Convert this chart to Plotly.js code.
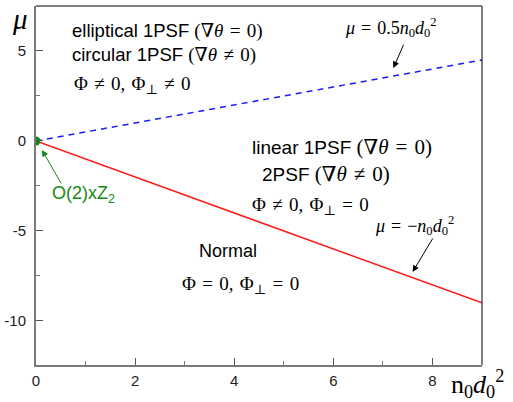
<!DOCTYPE html>
<html><head><meta charset="utf-8">
<script src="https://cdn.plot.ly/plotly-3.0.1.min.js"></script>
<style>html,body{margin:0;padding:0;background:#fff}</style>
</head><body><div id="chart" style="width:513px;height:402px"></div>
<script>
const xLine = [0, 9];
const muNormal = [0, -9];      // mu = -n0 d0^2
const muCircular = [0, 4.5];   // mu = 0.5 n0 d0^2
const originX = [0];
const originY = [0];
const xTickVals = [0, 2, 4, 6, 8];
const xTickText = ['0', '2', '4', '6', '8'];
const yTickVals = [-10, -5, 0, 5];
const yTickText = ['-10', '-5', '0', '5'];

const SANS = 'Liberation Sans, Arial, sans-serif';
const SERIF = 'Liberation Serif, DejaVu Serif, serif';
const S = '\u2004';
const m = (s, sz) => '<span style="font-family:' + SERIF + ';font-size:' + sz + 'px">' + s + '</span>';
const it = s => '<i>' + s + '</i>';

const traces = [
  {x: xLine, y: muCircular, mode: 'lines', line: {color: '#1a1aff', width: 1.5, dash: '6px,5px'}, hoverinfo: 'skip'},
  {x: xLine, y: muNormal, mode: 'lines', line: {color: '#ff1a1a', width: 1.5}, hoverinfo: 'skip'},
  {x: originX, y: originY, mode: 'markers', marker: {color: '#138a13', size: 9}, cliponaxis: true, hoverinfo: 'skip'}
];

const W = 513, H = 402, L = 36, R = 31, T = 6, B = 37;
const px = x => (x - L) / (W - L - R);
const py = y => 1 - (y - T) / (H - T - B);
const sansFont = {family: SANS, size: 19, color: '#000'};
const ann = (x, y, text, font) => ({xref: 'paper', yref: 'paper', x: px(x), y: py(y), text: text, showarrow: false,
  xanchor: 'left', yanchor: 'middle', font: font || sansFont});
const mathFont = {family: SERIF, size: 19, color: '#000'};

const annotations = [
  ann(70, 31, 'elliptical 1PSF ' + m('(∇' + it('θ') + S + '=' + S + '0)', 19), {family: SANS, size: 18.5, color: '#000'}),
  ann(70, 55, 'circular 1PSF ' + m('(∇' + it('θ') + S + '≠' + S + '0)', 19), {family: SANS, size: 18.5, color: '#000'}),
  ann(72, 85, 'Φ' + S + '≠' + S + '0,' + S + 'Φ<sub>⊥</sub>' + S + '≠' + S + '0', mathFont),
  ann(250, 147, 'linear 1PSF ' + m('(∇' + it('θ') + S + '=' + S + '0)', 21)),
  ann(260, 174, '2PSF ' + m('(∇' + it('θ') + S + '≠' + S + '0)', 21)),
  ann(250, 206, 'Φ' + S + '≠' + S + '0,' + S + 'Φ<sub>⊥</sub>' + S + '=' + S + '0', mathFont),
  ann(197, 251, 'Normal', {family: SANS, size: 18, color: '#000'}),
  ann(180, 285, 'Φ' + S + '=' + S + '0,' + S + 'Φ<sub>⊥</sub>' + S + '=' + S + '0', mathFont),
  ann(50, 194, 'O(2)xZ<sub>2</sub>', {family: SANS, size: 18, color: '#138a13'}),
  ann(343, 28, it('μ') + S + '=' + S + '0.5' + it('n') + '<sub>0</sub>' + it('d') + '<sub>0</sub><sup>2</sup>', {family: SERIF, size: 18, color: '#000'}),
  ann(373, 225, it('μ') + S + '=' + S + '−' + it('n') + '<sub>0</sub>' + it('d') + '<sub>0</sub><sup>2</sup>', {family: SERIF, size: 18, color: '#000'}),
  ann(10, 19, it('μ'), {family: SERIF, size: 29, color: '#000'}),
  ann(449, 384, 'n<sub>0</sub>' + it('d') + '<sub>0</sub><sup>2</sup>', {family: SERIF, size: 26, color: '#000'}),
  // arrows
  {xref: 'x', yref: 'y', x: 7.21, y: 4.05, ax: 11, ay: -25, text: '', showarrow: true, arrowhead: 2, arrowsize: 1.3, arrowwidth: 1, arrowcolor: '#000'},
  {xref: 'x', yref: 'y', x: 7.6, y: -7.28, ax: 21, ay: -35, text: '', showarrow: true, arrowhead: 2, arrowsize: 1.3, arrowwidth: 1, arrowcolor: '#000'},
  {xref: 'x', yref: 'y', x: 0.12, y: -0.5, axref: 'x', ayref: 'y', ax: 0.525, ay: -2.44, text: '', showarrow: true, arrowhead: 2, arrowsize: 1.3, arrowwidth: 1, arrowcolor: '#138a13'}
];

const layout = {
  width: W, height: H,
  margin: {l: L, r: R, t: T, b: B, pad: 0},
  paper_bgcolor: '#fff', plot_bgcolor: '#fff',
  showlegend: false,
  xaxis: {
    range: [0, 9], showgrid: false, zeroline: false,
    showline: true, linecolor: '#7a7a7a', linewidth: 2,
    ticks: 'inside', ticklen: 7, tickwidth: 1, tickcolor: '#555',
    tickmode: 'array', tickvals: xTickVals, ticktext: xTickText,
    minor: {dtick: 1, ticks: 'inside', ticklen: 4, tickcolor: '#777', showgrid: false},
    tickfont: {family: SANS, size: 15, color: '#222'}, ticklabelstandoff: 1, fixedrange: true
  },
  yaxis: {
    range: [-12.45, 7.5], showgrid: false, zeroline: false,
    showline: true, linecolor: '#7a7a7a', linewidth: 2,
    ticks: 'inside', ticklen: 7, tickwidth: 1, tickcolor: '#555',
    tickmode: 'array', tickvals: yTickVals, ticktext: yTickText,
    minor: {dtick: 2.5, ticks: 'inside', ticklen: 4, tickcolor: '#777', showgrid: false},
    tickfont: {family: SANS, size: 15, color: '#222'}, ticklabelstandoff: 5, fixedrange: true
  },
  shapes: [
    {type: 'line', xref: 'paper', yref: 'paper', x0: 0, x1: 1, y0: 1, y1: 1, line: {color: '#000', width: 1}},
    {type: 'line', xref: 'paper', yref: 'paper', x0: 1, x1: 1, y0: 0, y1: 1, line: {color: '#000', width: 1}}
  ],
  annotations: annotations
};

Plotly.newPlot('chart', traces, layout, {staticPlot: true, displayModeBar: false});
</script></body></html>
